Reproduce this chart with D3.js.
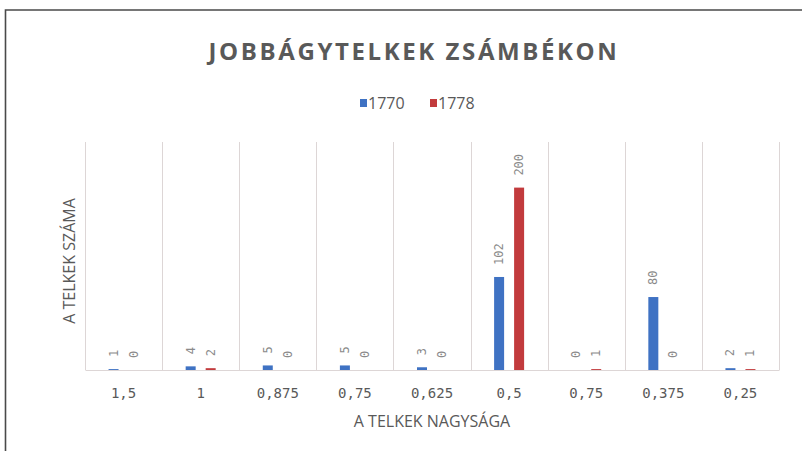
<!DOCTYPE html>
<html>
<head>
<meta charset="utf-8">
<script src="https://cdn.jsdelivr.net/npm/d3@7"></script>
<style>
    html, body { margin: 0; padding: 0; background: #fff; }
    svg { display: block; }
</style>
</head>
<body>
<div id="chart"></div>
<script>
/* global d3 */

var categories = ['1,5', '1', '0,875', '0,75', '0,625', '0,5', '0,75', '0,375', '0,25'];
var seriesNames = ['1770', '1778'];
var values1770 = [1, 4, 5, 5, 3, 102, 0, 80, 2];
var values1778 = [0, 2, 0, 0, 0, 200, 1, 0, 1];
var yDomainMax = 250;

var chartTitle = 'JOBBÁGYTELKEK ZSÁMBÉKON';
var xTitle = 'A TELKEK NAGYSÁGA';
var yTitle = 'A TELKEK SZÁMA';

var
    width = 802,
    height = 451,
    margin = { top: 142, right: 23, bottom: 81, left: 85 },
    colors = ['#3f72c3', '#c23b3d'],
    gridColor = '#ddd6d6',
    textColor = '#595959',
    labelColor = '#8a8a8a',
    monoFont = '"DejaVu Sans Mono", monospace',
    sansFont = '"Open Sans", sans-serif';

var innerWidth = width - margin.left - margin.right,
    innerHeight = height - margin.top - margin.bottom;

var data = categories.map(function (c, i) {
    return { index: i, label: c, values: [values1770[i], values1778[i]] };
});

function translation(x, y) {
    return 'translate(' + x + ',' + y + ')';
}

var svg = d3.select('#chart').append('svg')
    .attr('width', width)
    .attr('height', height);

// FRAME: only the top and left edges are inside the picture
svg.append('path')
    .attr('d', 'M5.5,' + height + 'V10H' + width)
    .attr('fill', 'none')
    .attr('stroke', '#4a4a4a')
    .attr('stroke-width', 1.6);

// SCALES
var x0 = d3.scaleBand()
    .domain(d3.range(categories.length))
    .range([0, innerWidth]);

var x1 = d3.scaleBand()
    .domain(d3.range(seriesNames.length))
    .range([x0.bandwidth() / 2 - 15, x0.bandwidth() / 2 + 15])
    .paddingInner(0.5);

var y = d3.scaleLinear()
    .domain([0, yDomainMax])
    .range([innerHeight, 0]);

var g = svg.append('g')
    .attr('transform', translation(margin.left, margin.top));

// VERTICAL GRID LINES AT CATEGORY BOUNDARIES
var boundaries = d3.range(categories.length + 1).map(function (i) {
    return i < categories.length ? x0(i) : x0(i - 1) + x0.bandwidth();
});

g.selectAll('.grid')
    .data(boundaries)
    .enter().append('line')
    .attr('class', 'grid')
    .attr('x1', function (d) { return Math.round(d) + 0.5; })
    .attr('x2', function (d) { return Math.round(d) + 0.5; })
    .attr('y1', 0)
    .attr('y2', innerHeight)
    .attr('stroke', gridColor)
    .attr('stroke-width', 1);

// X AXIS
var xAxis = d3.axisBottom(x0)
    .tickSize(0)
    .tickPadding(16)
    .tickFormat(function (i) { return categories[i]; });

var xAxisG = g.append('g')
    .attr('transform', translation(0, innerHeight))
    .call(xAxis);

// d3 sets its own font on the axis group, so override it afterwards
xAxisG
    .attr('font-family', monoFont)
    .attr('font-size', 14);

xAxisG.select('.domain')
    .attr('stroke', gridColor);

xAxisG.selectAll('text')
    .attr('dy', null)
    .attr('y', 28)
    .attr('fill', textColor);

// BARS
var groups = g.selectAll('.cat')
    .data(data)
    .enter().append('g')
    .attr('class', 'cat')
    .attr('transform', function (d) { return translation(x0(d.index), 0); });

groups.selectAll('rect')
    .data(function (d) { return d.values; })
    .enter().append('rect')
    .attr('x', function (d, i) { return x1(i); })
    .attr('y', function (d) { return y(d); })
    .attr('width', x1.bandwidth())
    .attr('height', function (d) { return innerHeight - y(d); })
    .attr('fill', function (d, i) { return colors[i]; });

// DATA LABELS (rotated, reading upward)
groups.selectAll('text')
    .data(function (d) { return d.values; })
    .enter().append('text')
    .attr('transform', function (d, i) {
        return translation(x1(i) + x1.bandwidth() / 2 + 4, y(d) - 12) + ' rotate(-90)';
    })
    .attr('text-anchor', 'start')
    .attr('fill', labelColor)
    .attr('font-family', monoFont)
    .attr('font-size', 12)
    .text(function (d) { return d; });

// TITLE
svg.append('text')
    .attr('x', 414)
    .attr('y', 60)
    .attr('text-anchor', 'middle')
    .attr('fill', textColor)
    .attr('font-family', sansFont)
    .attr('font-weight', 'bold')
    .attr('font-size', 24)
    .attr('letter-spacing', 2.6)
    .text(chartTitle);

// LEGEND
var legend = svg.append('g')
    .attr('transform', translation(360, 99));

var legendItems = legend.selectAll('g')
    .data(seriesNames)
    .enter().append('g')
    .attr('transform', function (d, i) { return translation(i * 70, 0); });

legendItems.append('rect')
    .attr('width', 7)
    .attr('height', 8)
    .attr('fill', function (d, i) { return colors[i]; });

legendItems.append('text')
    .attr('x', 8)
    .attr('y', 9.5)
    .attr('fill', textColor)
    .attr('font-family', sansFont)
    .attr('font-size', 16)
    .text(function (d) { return d; });

// AXIS TITLES
svg.append('text')
    .attr('x', margin.left + innerWidth / 2)
    .attr('y', 427)
    .attr('text-anchor', 'middle')
    .attr('fill', textColor)
    .attr('font-family', sansFont)
    .attr('font-size', 16)
    .text(xTitle);

svg.append('text')
    .attr('transform', translation(75, 261) + ' rotate(-90)')
    .attr('text-anchor', 'middle')
    .attr('fill', textColor)
    .attr('font-family', sansFont)
    .attr('font-size', 16)
    .text(yTitle);
</script>
</body>
</html>
